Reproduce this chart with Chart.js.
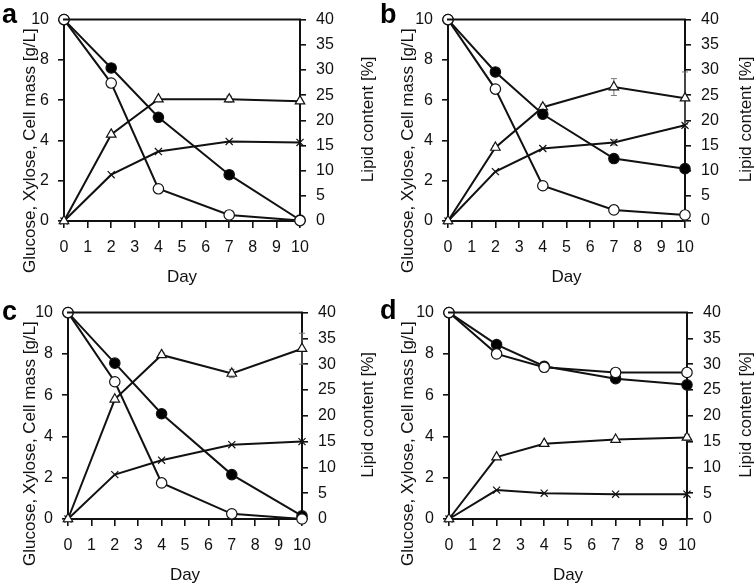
<!DOCTYPE html>
<html>
<head>
<meta charset="utf-8">
<script src="https://cdn.jsdelivr.net/npm/chart.js@4"></script>
<style>
  html, body { margin: 0; padding: 0; background: #fff; }
  #grid { display: grid; grid-template-columns: 378px 378px; grid-template-rows: 293px 293px; width: 756px; height: 586px; }
  canvas { display: block; }
</style>
</head>
<body>
<div id="grid">
  <canvas id="panelA" width="378" height="293"></canvas>
  <canvas id="panelB" width="378" height="293"></canvas>
  <canvas id="panelC" width="378" height="293"></canvas>
  <canvas id="panelD" width="378" height="293"></canvas>
</div>
<script>
// ---------------------- Data ----------------------
const DAYS = [0, 2, 4, 7, 10];
const X_TICKS = [0, 1, 2, 3, 4, 5, 6, 7, 8, 9, 10];

// panel a
const glucoseA  = [10, 6.85, 1.6, 0.3, 0.02];
const xyloseA   = [10, 7.6, 5.15, 2.3, 0.05];
const cellMassA = [0, 4.3, 6.05, 6.05, 5.95];
const cellErrA  = [0, 0, 0, 0.15, 0];
const lipidA    = [0, 9.2, 13.8, 15.8, 15.6];   // %
const lipidErrA = [0, 0, 0, 0, 0];

// panel b
const glucoseB  = [10, 6.55, 1.75, 0.55, 0.3];
const xyloseB   = [10, 7.4, 5.3, 3.1, 2.6];
const cellMassB = [0, 3.65, 5.65, 6.65, 6.1];
const cellErrB  = [0, 0.1, 0.15, 0.42, 1.3];
const lipidB    = [0, 9.8, 14.4, 15.6, 19.0];
const lipidErrB = [0, 0, 0, 0.5, 0.4];

// panel c
const glucoseC  = [10, 6.65, 1.75, 0.25, 0.0];
const xyloseC   = [10, 7.55, 5.1, 2.15, 0.15];
const cellMassC = [0, 5.8, 7.95, 7.05, 8.25];
const cellErrC  = [0, 0.1, 0.1, 0.2, 0.75];
const lipidC    = [0, 8.6, 11.4, 14.4, 15.0];
const lipidErrC = [0, 0, 0, 0, 0];

// panel d
const glucoseD  = [10, 8.0, 7.35, 7.1, 7.1];
const xyloseD   = [10, 8.45, 7.4, 6.8, 6.5];
const cellMassD = [0, 3.0, 3.65, 3.85, 3.95];
const cellErrD  = [0, 0, 0, 0, 0.15];
const lipidD    = [0, 5.6, 5.0, 4.8, 4.8];
const lipidErrD = [0, 0, 0, 0, 0];

const LEFT_TITLE  = 'Glucose, Xylose, Cell mass [g/L]';
const RIGHT_TITLE = 'Lipid content [%]';
const X_TITLE     = 'Day';

// ---------------------- Layout ----------------------
const W = 378, H = 293;
const FONT = '"Liberation Sans", Arial, sans-serif';
const INK = '#111';

const PANELS = [
  { canvas: 'panelA', letter: 'a', glucose: glucoseA, xylose: xyloseA, cell: cellMassA, cellErr: cellErrA, lipid: lipidA, lipidErr: lipidErrA,
    box: { left: 64, right: 300, top: 12, bottom: 221 }, letterY: 23 },
  { canvas: 'panelB', letter: 'b', glucose: glucoseB, xylose: xyloseB, cell: cellMassB, cellErr: cellErrB, lipid: lipidB, lipidErr: lipidErrB,
    box: { left: 70, right: 307, top: 12, bottom: 221 }, letterY: 23 },
  { canvas: 'panelC', letter: 'c', glucose: glucoseC, xylose: xyloseC, cell: cellMassC, cellErr: cellErrC, lipid: lipidC, lipidErr: lipidErrC,
    box: { left: 68, right: 302, top: 17, bottom: 226 }, letterY: 27 },
  { canvas: 'panelD', letter: 'd', glucose: glucoseD, xylose: xyloseD, cell: cellMassD, cellErr: cellErrD, lipid: lipidD, lipidErr: lipidErrD,
    box: { left: 71, right: 309, top: 17, bottom: 226 }, letterY: 26 },
];

const pts = (vals) => DAYS.map((d, i) => ({ x: d, y: vals[i] }));

// ---------------------- Plugin: frame, error bars, titles ----------------------
const decorPlugin = {
  id: 'decor',
  beforeDatasetsDraw(chart) {
    const p = chart.config.options.plugins.decor.panel;
    const ctx = chart.ctx;
    const xs = chart.scales.x, yl = chart.scales.y, yr = chart.scales.y1;
    ctx.save();
    ctx.strokeStyle = '#7a7a7a';
    ctx.lineWidth = 1;
    const bar = (scale, vals, errs) => {
      DAYS.forEach((d, i) => {
        if (!errs[i]) return;
        const px = xs.getPixelForValue(d);
        const y1 = scale.getPixelForValue(vals[i] + errs[i]);
        const y2 = scale.getPixelForValue(vals[i] - errs[i]);
        ctx.beginPath();
        ctx.moveTo(px, y1); ctx.lineTo(px, y2);
        ctx.moveTo(px - 3, y1); ctx.lineTo(px + 3, y1);
        ctx.moveTo(px - 3, y2); ctx.lineTo(px + 3, y2);
        ctx.stroke();
      });
    };
    bar(yl, p.cell, p.cellErr);
    bar(yr, p.lipid, p.lipidErr);
    ctx.restore();
  },
  afterDraw(chart) {
    const p = chart.config.options.plugins.decor.panel;
    const ctx = chart.ctx;
    const a = chart.chartArea;
    ctx.save();
    // top frame line
    ctx.strokeStyle = INK;
    ctx.lineWidth = 2;
    ctx.beginPath();
    ctx.moveTo(a.left - 1, a.top);
    ctx.lineTo(a.right + 1, a.top);
    ctx.stroke();

    ctx.fillStyle = '#111';
    ctx.textAlign = 'center';
    ctx.textBaseline = 'middle';
    ctx.font = '17px ' + FONT;
    // left title
    ctx.save();
    ctx.translate(30, a.top + 131);
    ctx.rotate(-Math.PI / 2);
    ctx.fillText(LEFT_TITLE, 0, 0);
    ctx.restore();
    // right title
    ctx.save();
    ctx.translate(368, (a.top + a.bottom) / 2 - 1);
    ctx.rotate(-Math.PI / 2);
    ctx.fillText(RIGHT_TITLE, 0, 0);
    ctx.restore();
    // x title
    ctx.fillText(X_TITLE, (a.left + a.right) / 2, a.bottom + 56);

    // panel letter
    ctx.fillStyle = '#000';
    ctx.textAlign = 'left';
    ctx.textBaseline = 'alphabetic';
    ctx.font = 'bold 27px ' + FONT;
    ctx.fillText(p.letter, 2, p.letterY);
    ctx.restore();
  },
};

// ---------------------- Chart factory ----------------------
function makePanel(p) {
  const b = p.box;
  const tickFont = { family: FONT, size: 16 };
  const lineDs = (label, vals, axis, style, fill, radius, order) => ({
    label,
    data: pts(vals),
    yAxisID: axis,
    borderColor: INK,
    borderWidth: 2,
    pointStyle: style,
    pointRadius: radius,
    pointBorderWidth: 1.2,
    pointBorderColor: INK,
    pointBackgroundColor: fill,
    tension: 0,
    clip: false,
    order,
  });

  return new Chart(document.getElementById(p.canvas), {
    type: 'line',
    data: {
      datasets: [
        lineDs('Glucose', p.glucose, 'y', 'circle', '#fff', 5.2, 0),
        lineDs('Xylose', p.xylose, 'y', 'circle', '#000', 5.2, 1),
        lineDs('Cell mass', p.cell, 'y', 'triangle', '#fff', 5.5, 2),
        lineDs('Lipid content', p.lipid, 'y1', 'crossRot', '#fff', 5, 3),
      ],
    },
    options: {
      responsive: false,
      animation: false,
      devicePixelRatio: 1,
      layout: { padding: { top: b.top, left: 0, right: 0, bottom: 0 } },
      plugins: {
        legend: { display: false },
        tooltip: { enabled: false },
        decor: { panel: p },
      },
      scales: {
        x: {
          type: 'linear', min: 0, max: 10,
          afterBuildTicks: (s) => { s.ticks = X_TICKS.map(v => ({ value: v })); },
          ticks: { font: tickFont, color: '#111', padding: 10, maxRotation: 0, autoSkip: false },
          grid: { drawOnChartArea: false, drawTicks: true, tickLength: 7, color: INK, lineWidth: 1.6 },
          border: { color: INK, width: 2 },
          afterFit: (s) => { s.height = H - b.bottom; },
        },
        y: {
          position: 'left', min: 0, max: 10,
          ticks: { stepSize: 2, font: tickFont, color: '#111', padding: 9 },
          grid: { drawOnChartArea: false, drawTicks: true, tickLength: 6, color: INK, lineWidth: 1.6 },
          border: { color: INK, width: 2 },
          afterFit: (s) => { s.width = b.left; },
        },
        y1: {
          position: 'right', min: 0, max: 40,
          ticks: { stepSize: 5, font: tickFont, color: '#111', padding: 10 },
          grid: { drawOnChartArea: false, drawTicks: true, tickLength: 6, color: INK, lineWidth: 1.6 },
          border: { color: INK, width: 2 },
          afterFit: (s) => { s.width = W - b.right; },
        },
      },
    },
    plugins: [decorPlugin],
  });
}

PANELS.forEach(makePanel);
</script>
</body>
</html>
